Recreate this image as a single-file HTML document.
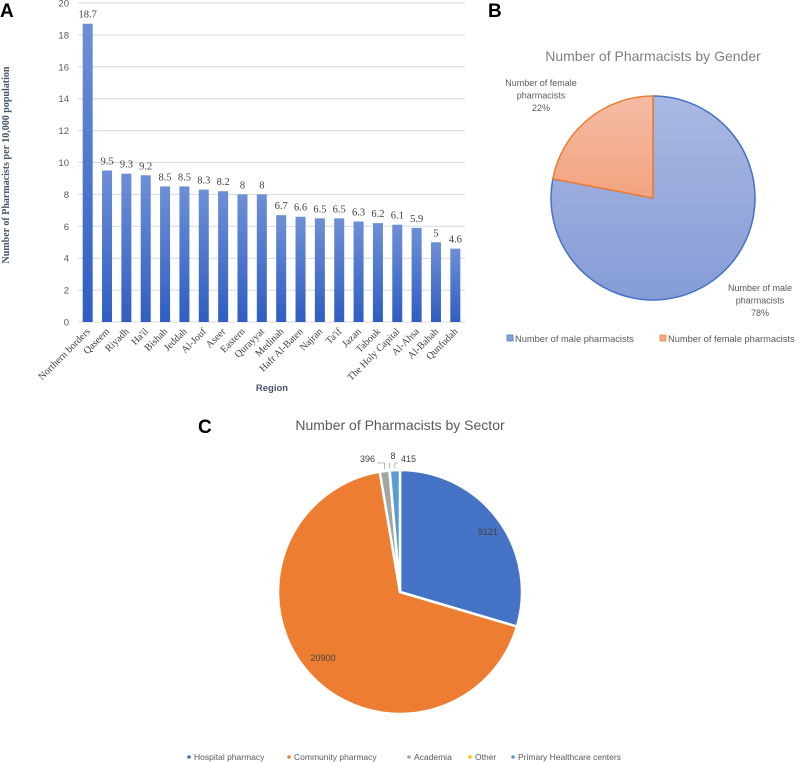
<!DOCTYPE html>
<html><head><meta charset="utf-8"><style>
body{margin:0;background:#fff;}
svg{display:block;}
</style></head><body>
<svg width="800" height="763" xmlns="http://www.w3.org/2000/svg">
<defs>
<linearGradient id="barG" x1="0" y1="0" x2="0" y2="1"><stop offset="0" stop-color="#6d8fd6"/><stop offset="1" stop-color="#2f5ec2"/></linearGradient>
<linearGradient id="maleG" x1="0" y1="0" x2="0" y2="1"><stop offset="0" stop-color="#aab9e2"/><stop offset="1" stop-color="#869cd7"/></linearGradient>
<linearGradient id="femG" x1="0" y1="0" x2="0" y2="1"><stop offset="0" stop-color="#f5bba5"/><stop offset="1" stop-color="#f3a37f"/></linearGradient>
</defs>
<text x="0" y="17" font-family="Liberation Sans, sans-serif" font-weight="bold" font-size="19">A</text>
<text x="488" y="17" font-family="Liberation Sans, sans-serif" font-weight="bold" font-size="19">B</text>
<text x="198" y="433" font-family="Liberation Sans, sans-serif" font-weight="bold" font-size="19">C</text>
<g id="chartA"></g>
<g id="chartB"></g>
<g id="chartC"></g>
</svg>
<script>
const regions=["Northern borders","Qaseem","Riyadh","Ha'il","Bishah","Jeddah","Al-Jouf","Aseer","Eastern","Qurayyat","Medinah","Hafr Al-Baten","Najran","Ta'if","Jazan","Tabouk","The Holy Capital","Al-Ahsa","Al-Bahah","Qunfudah"];
const rates=[18.7,9.5,9.3,9.2,8.5,8.5,8.3,8.2,8,8,6.7,6.6,6.5,6.5,6.3,6.2,6.1,5.9,5,4.6];
const yTicks=[0,2,4,6,8,10,12,14,16,18,20];
const genderLabels=["Number of male pharmacists","Number of female pharmacists"];
const genderShares=[78,22];
const sectorLabels=["Hospital pharmacy","Community pharmacy","Academia","Other","Primary Healthcare centers"];
const sectorValues=[9121,20900,396,8,415];

const NS="http://www.w3.org/2000/svg";
function mk(parent,tag,attrs,text){const e=document.createElementNS(NS,tag);for(const k in attrs)e.setAttribute(k,attrs[k]);if(text!==undefined)e.textContent=text;parent.appendChild(e);return e;}

// Chart A
const A=document.getElementById('chartA');
const x0=78,x1=465,yBase=322,yTop=3,yMax=20;
const yS=v=>yBase-(v/yMax)*(yBase-yTop);
const step=(x1-x0)/regions.length;
const xS=i=>x0+step*(i+0.5);
yTicks.forEach(t=>{
  const l=mk(A,'line',{x1:x0,x2:x1,y1:yS(t),y2:yS(t),stroke:'#d9d9d9','stroke-width':1});
  
  
  const tx=mk(A,'text',{x:69,y:yS(t)+3.5,'text-anchor':'end','font-family':'Liberation Sans, sans-serif','font-size':9.5,fill:'#595959'},String(t));
  
  
});
regions.forEach((r,i)=>{
  const cx=xS(i),w=10;
  const b=mk(A,'rect',{x:cx-w/2,y:yS(rates[i]),width:w,height:yBase-yS(rates[i]),fill:'url(#barG)'});
  
  
  const v=mk(A,'text',{x:cx,y:yS(rates[i])-6,'text-anchor':'middle','font-family':'Liberation Serif, serif','font-size':10.5,fill:'#404040'},String(rates[i]));
  
  
  const lb=mk(A,'text',{x:cx+3,y:yBase+10,'text-anchor':'end','font-family':'Liberation Serif, serif','font-size':10,fill:'#404040',transform:`rotate(-45 ${cx+3} ${yBase+10})`},r);
  
  
});
const yt=mk(A,'text',{x:9,y:165,'text-anchor':'middle','font-family':'Liberation Serif, serif','font-weight':'bold','font-size':10,fill:'#44546a',transform:'rotate(-90 9 165)'},'Number of Pharmacists per 10,000 population');


const xt=mk(A,'text',{x:272,y:391,'text-anchor':'middle','font-family':'Liberation Sans, sans-serif','font-weight':'bold','font-size':9.5,fill:'#44546a'},'Region');



function arc(cx,cy,r,a0,a1){
  const p=a=>[cx+r*Math.sin(a),cy-r*Math.cos(a)];
  const [sx,sy]=p(a0),[ex,ey]=p(a1);
  const large=(a1-a0)>Math.PI?1:0;
  return `M${cx},${cy} L${sx},${sy} A${r},${r} 0 ${large} 1 ${ex},${ey} Z`;
}
// Chart B
const B=document.getElementById('chartB');
const bt=mk(B,'text',{x:653,y:61,'text-anchor':'middle','font-family':'Liberation Sans, sans-serif','font-size':14,fill:'#7f7f7f'},'Number of Pharmacists by Gender');


const gTot=genderShares.reduce((a,b)=>a+b,0);
const fills=['url(#maleG)','url(#femG)'],strokes=['#4472c4','#ed7d31'];
let a=0;
genderShares.forEach((v,i)=>{
  const a1=a+v/gTot*2*Math.PI;
  const s=mk(B,'path',{d:arc(653,198,102,a,a1),fill:fills[i],stroke:strokes[i],'stroke-width':1.5});
  
  
  a=a1;
});
const lbB=[[760,291],[541,86]];
genderShares.forEach((v,i)=>{
  const words=genderLabels[i].split(' ');
  const lines=[words.slice(0,3).join(' '),words.slice(3).join(' '),v+'%'];
  lines.forEach((ln,j)=>{
    const t=mk(B,'text',{x:lbB[i][0],y:lbB[i][1]+j*12.5,'text-anchor':'middle','font-family':'Liberation Sans, sans-serif','font-size':9,fill:'#595959'},ln);
    
    
  });
});
const legBx=[507,660];
genderLabels.forEach((g,i)=>{
  const r=mk(B,'rect',{x:legBx[i],y:335,width:6,height:6,fill:i?'#f4a680':'#8aa0d8',stroke:strokes[i],'stroke-width':0.7});
  
  
  const t=mk(B,'text',{x:legBx[i]+8,y:342,'font-family':'Liberation Sans, sans-serif','font-size':9.3,fill:'#595959'},g);
  
  
});

// Chart C
const C=document.getElementById('chartC');
const ct=mk(C,'text',{x:400,y:430,'text-anchor':'middle','font-family':'Liberation Sans, sans-serif','font-size':14,fill:'#595959'},'Number of Pharmacists by Sector');


const cCols=['#4472c4','#ed7d31','#a5a5a5','#ffc000','#5b9bd5'];
const cTot=sectorValues.reduce((p,q)=>p+q,0);
a=0;
const mids=[];
sectorValues.forEach((v,i)=>{
  const a1=a+v/cTot*2*Math.PI;
  const s=mk(C,'path',{d:arc(400,592,122,a,a1),fill:cCols[i],stroke:'#fff','stroke-width':2.5});
  
  
  mids.push((a+a1)/2);a=a1;
});
const inLab=[[488,535],[323,661]];
[0,1].forEach(i=>{
  const t=mk(C,'text',{x:inLab[i][0],y:inLab[i][1],'text-anchor':'middle','font-family':'Liberation Sans, sans-serif','font-size':9,fill:'#404040'},String(sectorValues[i]));
  
  
});
const outLab=[[375,462,'end'],[393,459,'middle'],[401,462,'start']];
[2,3,4].forEach((k,j)=>{
  const t=mk(C,'text',{x:outLab[j][0],y:outLab[j][1],'text-anchor':outLab[j][2],'font-family':'Liberation Sans, sans-serif','font-size':9,fill:'#404040'},String(sectorValues[k]));
  
  
  const mx=400+122*Math.sin(mids[k]),my=592-122*Math.cos(mids[k]);
  const l=mk(C,'polyline',{points:`${j==0?377:j==2?398:mx},463 ${mx},463 ${mx},${my-2}`,fill:'none',stroke:'#a6a6a6','stroke-width':0.8});
  
  
});
const legCx=[189,289,409,470,513];
sectorLabels.forEach((s,i)=>{
  const c=mk(C,'circle',{cx:legCx[i],cy:757,r:1.8,fill:cCols[i]});
  
  
  const t=mk(C,'text',{x:legCx[i]+5,y:760,'font-family':'Liberation Sans, sans-serif','font-size':8.5,fill:'#595959'},s);
  
  
});
</script>
</body></html>
